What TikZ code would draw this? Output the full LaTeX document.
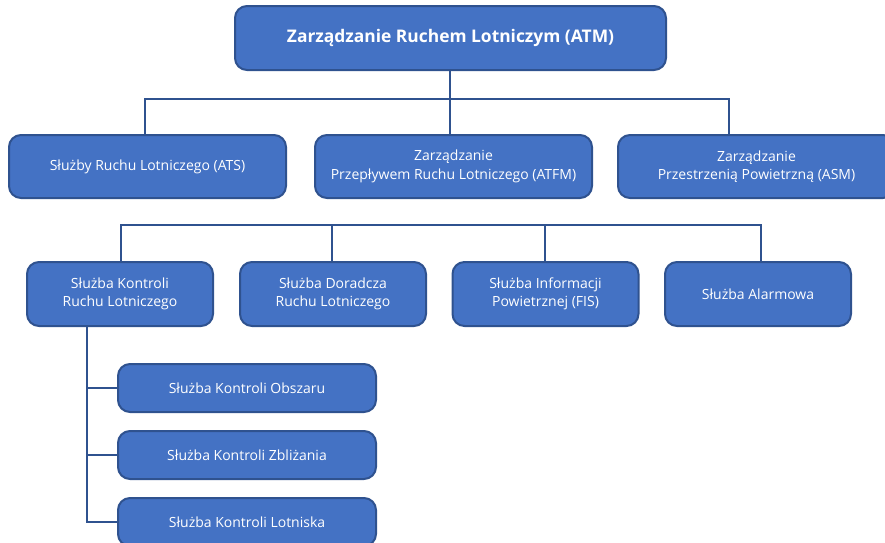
\documentclass[tikz,border=0pt]{standalone}
\usepackage{fontspec}
\setmainfont{Open Sans}
\definecolor{boxfill}{HTML}{4472C4}
\definecolor{boxline}{HTML}{2F528F}
\tikzset{
  orgbox/.style={draw=boxline, line width=2pt, fill=boxfill, rounded corners=12pt,
    text=white, align=center, inner sep=0pt,
    font=\fontsize{14}{18.5}\selectfont},
  conn/.style={draw=boxline, line width=2pt}
}
\begin{document}
\begin{tikzpicture}[x=1pt,y=-1pt]
\useasboundingbox (0,0) rectangle (885,542);
\clip (0,0) rectangle (885,542);
% level 1
\node[orgbox, minimum width=431pt, minimum height=64pt, font=\fontsize{17.4}{21}\selectfont\bfseries] (atm) at (450.5,38) {Zarządzanie Ruchem Lotniczym (ATM)};
% level 2
\node[orgbox, minimum width=277pt, minimum height=63pt] (ats) at (147.5,166.5) {Służby Ruchu Lotniczego (ATS)};
\node[orgbox, minimum width=277pt, minimum height=63pt] (atfm) at (453.5,166.5) {Zarządzanie\\Przepływem Ruchu Lotniczego (ATFM)};
\node[orgbox, minimum width=277pt, minimum height=63pt] (asm) at (756.5,166.5) {Zarządzanie\\Przestrzenią Powietrzną (ASM)};
% level 3
\node[orgbox, minimum width=186pt, minimum height=64pt] (atc) at (120,294) {Służba Kontroli\\Ruchu Lotniczego};
\node[orgbox, minimum width=186pt, minimum height=64pt] (adv) at (333,294) {Służba Doradcza\\Ruchu Lotniczego};
\node[orgbox, minimum width=186pt, minimum height=64pt] (fis) at (545.5,294) {Służba Informacji\\Powietrznej (FIS)};
\node[orgbox, minimum width=186pt, minimum height=64pt] (alr) at (758,294) {Służba Alarmowa};
% level 4
\node[orgbox, minimum width=258pt, minimum height=48pt] (acc) at (247,388) {Służba Kontroli Obszaru};
\node[orgbox, minimum width=258pt, minimum height=48pt] (app) at (247,455) {Służba Kontroli Zbliżania};
\node[orgbox, minimum width=258pt, minimum height=48pt] (twr) at (247,522) {Służba Kontroli Lotniska};
% bus coordinates
\coordinate (b1) at (450,99);
\coordinate (b1l) at (145,99);
\coordinate (b1r) at (729,99);
\coordinate (b2l) at (121,225);
\coordinate (b2a) at (332,225);
\coordinate (b2b) at (545,225);
\coordinate (b2r) at (761,225);
\coordinate (t1) at (87,326);
\coordinate (t2) at (87,388);
\coordinate (t3) at (87,455);
\coordinate (t4) at (87,522);
% connectors level 1-2
\draw[conn] (atm.south -| b1) -- (b1);
\draw[conn] (ats.north -| b1l) -- (b1l) -- (b1r) -- (asm.north -| b1r);
\draw[conn] (b1) -- (atfm.north -| b1);
% connectors level 3
\draw[conn] (atc.north -| b2l) -- (b2l) -- (b2r) -- (alr.north -| b2r);
\draw[conn] (b2a) -- (adv.north -| b2a);
\draw[conn] (b2b) -- (fis.north -| b2b);
% connectors level 4
\draw[conn] (atc.south -| t1) -- (t4) -- (twr.west);
\draw[conn] (t2) -- (acc.west);
\draw[conn] (t3) -- (app.west);
\end{tikzpicture}
\end{document}
